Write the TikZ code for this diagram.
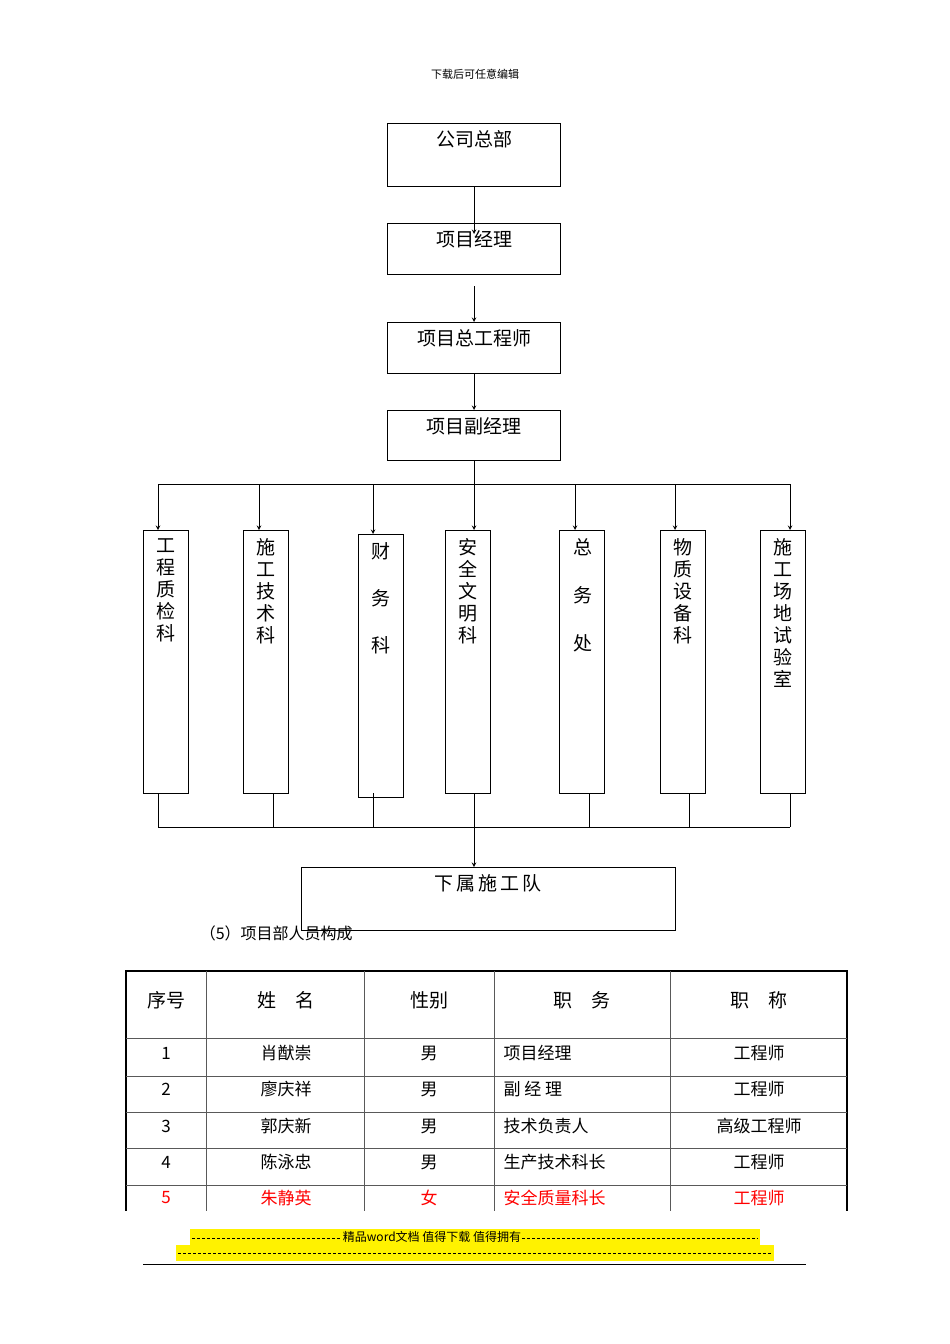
\documentclass[tikz,border=0pt]{standalone}
\usepackage{fontspec}
\setmainfont{Liberation Serif}
\newfontfamily\cjk{Noto Sans CJK SC}
\usetikzlibrary{positioning}
\newcommand{\vtext}[2]{\parbox{1.2em}{\centering\cjk\baselineskip=#1 #2\par}}
\begin{document}
\begin{tikzpicture}[x=1pt,y=-1pt,line width=1pt,font=\cjk\fontsize{19}{22}\selectfont,
  box/.style={draw,minimum width=173pt,anchor=north west,inner sep=0pt},
  col/.style={draw,minimum width=45pt,minimum height=263pt,anchor=north west,inner sep=0pt},
  lbl/.style={anchor=north,inner sep=0pt},
  cell/.style={inner sep=0pt,font=\cjk\fontsize{17}{19}\selectfont},
  >=stealth]
  \useasboundingbox (0,0) rectangle (950,1344);
  \node[font=\cjk\fontsize{11}{12}\selectfont] (top) at (475,74) {下载后可任意编辑};
  % chain of boxes
  \node[box,minimum height=63pt] (hq) at (387,123) {};
  \node[lbl] at (474,130) {公司总部};
  \node[box,minimum height=51pt] (pm) at (387,223) {};
  \node[lbl] at (474,230) {项目经理};
  \node[box,minimum height=51pt] (ce) at (387,322) {};
  \node[lbl] at (474,329) {项目总工程师};
  \node[box,minimum height=50pt] (dm) at (387,410) {};
  \node[lbl] at (474,417) {项目副经理};
  \draw[->] (hq.south) -- (474,234);
  \draw[->] (474,286) -- (ce.north);
  \draw[->] (ce.south) -- (dm.north);
  % departments
  \node[col] (d1) at (143,530) {};
  \node[col] (d2) at (243,530) {};
  \node[col] (d3) at (358,534) {};
  \node[col] (d4) at (445,530) {};
  \node[col] (d5) at (559,530) {};
  \node[col] (d6) at (660,530) {};
  \node[col] (d7) at (760,530) {};
  \node[lbl] at (166,538) {\vtext{22pt}{工\\程\\质\\检\\科}};
  \node[lbl] at (266,538) {\vtext{22pt}{施\\工\\技\\术\\科}};
  \node[lbl] at (381,542) {\vtext{47pt}{财\\务\\科}};
  \node[lbl] at (468,538) {\vtext{22pt}{安\\全\\文\\明\\科}};
  \node[lbl] at (583,538) {\vtext{48pt}{总\\务\\处}};
  \node[lbl] at (683,538) {\vtext{22pt}{物\\质\\设\\备\\科}};
  \node[lbl] at (783,538) {\vtext{22pt}{施\\工\\场\\地\\试\\验\\室}};
  \coordinate (b1) at (474,484);
  \draw (dm.south) -- (b1);
  \draw (158,484) -- (790,484);
  \foreach \x/\n in {158/d1,259/d2,373/d3,474/d4,575/d5,675/d6,790/d7}
    \draw[->] (\x,484) -- (\n.north -| \x,0);
  % lower bus
  \draw (158,827) -- (790,827);
  \foreach \x in {158,273,373,474,589,689,790}
    \draw (\x,793) -- (\x,827);
  \node[box,minimum width=374pt,minimum height=63pt] (team) at (301,867) {};
  \node[lbl] at (488,874) {下\,属\,施\,工\,队};
  \draw[->] (474,827) -- (team.north -| 474,0);
  \node[anchor=west,font=\cjk\fontsize{16}{18}\selectfont] (cap) at (196,933) {（5）项目部人员构成};
  % table
  \draw[line width=2.5pt] (125,971) -- (848,971);
  \draw[line width=2.5pt] (126,970) -- (126,1211);
  \draw[line width=2.5pt] (847,970) -- (847,1211);
  \foreach \x in {206,364,494,670} \draw[gray!70!black] (\x,971) -- (\x,1211);
  \foreach \y in {1038,1076,1112,1148,1185} \draw[gray!70!black] (126,\y) -- (847,\y);
  \begin{scope}[every node/.style={cell}]
    \node at (166,1000) {\fontsize{19}{21}\selectfont 序号};
    \node at (286,1000) {\fontsize{19}{21}\selectfont 姓\quad 名};
    \node at (429,1000) {\fontsize{19}{21}\selectfont 性别};
    \node at (582,1000) {\fontsize{19}{21}\selectfont 职\quad 务};
    \node at (759,1000) {\fontsize{19}{21}\selectfont 职\quad 称};
    \foreach \y/\a/\b/\c/\d/\e in {1053/1/肖猷崇/男/项目经理/工程师,
        1089/2/廖庆祥/男/副\ 经\ 理/工程师,
        1126/3/郭庆新/男/技术负责人/高级工程师,
        1162/4/陈泳忠/男/生产技术科长/工程师} {
      \node at (166,\y) {\a};
      \node at (286,\y) {\b};
      \node at (429,\y) {\c};
      \node[anchor=west] at (503,\y) {\d};
      \node at (759,\y) {\e};
    }
    \node[red] at (166,1198) {5};
    \node[red] at (286,1198) {朱静英};
    \node[red] at (429,1198) {女};
    \node[red,anchor=west] at (503,1198) {安全质量科长};
    \node[red] at (759,1198) {工程师};
  \end{scope}
  % footer
  \fill[yellow] (190,1229) rectangle (760,1245);
  \fill[yellow] (176,1245) rectangle (774,1261);
  \draw[densely dashed,line width=0.6pt] (192,1238) -- (758,1238);
  \draw[densely dashed,line width=0.6pt] (178,1253) -- (772,1253);
  \node[font=\cjk\fontsize{12}{13}\selectfont,inner sep=1pt,fill=yellow] (ft) at (432,1237) {精品word文档 值得下载 值得拥有};
  \draw (143,1264) -- (806,1264);
\end{tikzpicture}
\end{document}
